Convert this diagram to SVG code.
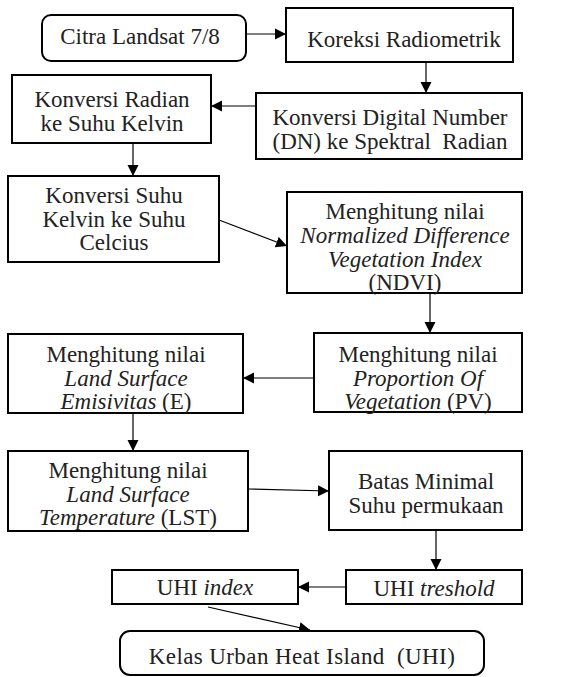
<svg xmlns="http://www.w3.org/2000/svg" width="568" height="677" viewBox="0 0 568 677">
<defs>
<style>
.box{fill:#fff;stroke:#000;stroke-width:2}
.t{font-size:23px;fill:#222;text-anchor:middle}
.i{font-style:italic}
.c{fill:none;stroke:#000;stroke-width:1.2}
</style>
<marker id="ah" markerUnits="userSpaceOnUse" markerWidth="12" markerHeight="12" refX="11" refY="6" orient="auto" viewBox="0 0 12 12">
<path d="M0,0.5 L11,6 L0,11.5 z" fill="#000"/>
</marker>
</defs>
<rect width="568" height="677" fill="#fff"/>
<g id="connectors">
<line class="c" x1="246" y1="34" x2="286" y2="34" marker-end="url(#ah)"/>
<line class="c" x1="426" y1="62" x2="426" y2="93" marker-end="url(#ah)"/>
<line class="c" x1="256" y1="106" x2="211" y2="106" marker-end="url(#ah)"/>
<line class="c" x1="133" y1="143" x2="133" y2="176" marker-end="url(#ah)"/>
<line class="c" x1="219" y1="220" x2="287" y2="246" marker-end="url(#ah)"/>
<line class="c" x1="430" y1="293" x2="430" y2="333" marker-end="url(#ah)"/>
<line class="c" x1="314" y1="378" x2="243" y2="378" marker-end="url(#ah)"/>
<line class="c" x1="133" y1="413" x2="133" y2="451" marker-end="url(#ah)"/>
<line class="c" x1="248" y1="489" x2="329" y2="491" marker-end="url(#ah)"/>
<line class="c" x1="436" y1="530" x2="436" y2="570" marker-end="url(#ah)"/>
<line class="c" x1="346" y1="587" x2="298" y2="587" marker-end="url(#ah)"/>
<line class="c" x1="208" y1="607" x2="310" y2="630" marker-end="url(#ah)"/>
</g>
<g font-family="Liberation Serif, DejaVu Serif, serif">
<g id="citra">
<rect class="box" x="42" y="15" width="204" height="46" rx="9"/>
<text class="t" x="140" y="44">Citra Landsat 7/8</text>
</g>
<g id="koreksi">
<rect class="box" x="286" y="8" width="227" height="54"/>
<text class="t" x="404" y="47">Koreksi Radiometrik</text>
</g>
<g id="radian">
<rect class="box" x="12" y="75" width="199" height="68"/>
<text class="t" x="112" y="107">Konversi Radian</text>
<text class="t" x="112" y="131">ke Suhu Kelvin</text>
</g>
<g id="dn">
<rect class="box" x="256" y="93" width="266" height="66"/>
<text class="t" x="390" y="125">Konversi Digital Number</text>
<text class="t" x="390" y="149">(DN) ke Spektral&#160; Radian</text>
</g>
<g id="celcius">
<rect class="box" x="8" y="176" width="211" height="86"/>
<text class="t" x="114" y="203">Konversi Suhu</text>
<text class="t" x="114" y="227">Kelvin ke Suhu</text>
<text class="t" x="114" y="250">Celcius</text>
</g>
<g id="ndvi">
<rect class="box" x="287" y="192" width="235" height="101"/>
<text class="t" x="405" y="219">Menghitung nilai</text>
<text class="t i" x="405" y="243">Normalized Difference</text>
<text class="t i" x="405" y="267">Vegetation Index</text>
<text class="t" x="405" y="290">(NDVI)</text>
</g>
<g id="pv">
<rect class="box" x="314" y="333" width="208" height="79"/>
<text class="t" x="418" y="362">Menghitung nilai</text>
<text class="t i" x="418" y="386">Proportion Of</text>
<text class="t" x="418" y="409"><tspan class="i">Vegetation</tspan> (PV)</text>
</g>
<g id="emisivitas">
<rect class="box" x="8" y="334" width="235" height="79"/>
<text class="t" x="126" y="362">Menghitung nilai</text>
<text class="t i" x="126" y="386">Land Surface</text>
<text class="t" x="126" y="409"><tspan class="i">Emisivitas</tspan> (E)</text>
</g>
<g id="lst">
<rect class="box" x="8" y="451" width="240" height="80"/>
<text class="t" x="128" y="478">Menghitung nilai</text>
<text class="t i" x="128" y="502">Land Surface</text>
<text class="t" x="128" y="525"><tspan class="i">Temperature</tspan> (LST)</text>
</g>
<g id="batas">
<rect class="box" x="329" y="451" width="193" height="79"/>
<text class="t" x="426" y="489">Batas Minimal</text>
<text class="t" x="426" y="513">Suhu permukaan</text>
</g>
<g id="treshold">
<rect class="box" x="346" y="570" width="176" height="34"/>
<text class="t" x="434" y="596">UHI <tspan class="i">treshold</tspan></text>
</g>
<g id="index">
<rect class="box" x="112" y="570" width="186" height="34"/>
<text class="t" x="205" y="595">UHI <tspan class="i">index</tspan></text>
</g>
<g id="kelas">
<rect class="box" x="120" y="631" width="364" height="44" rx="10"/>
<text class="t" x="302" y="664" letter-spacing="0.4">Kelas Urban Heat Island&#160; (UHI)</text>
</g>
</g>
</svg>
